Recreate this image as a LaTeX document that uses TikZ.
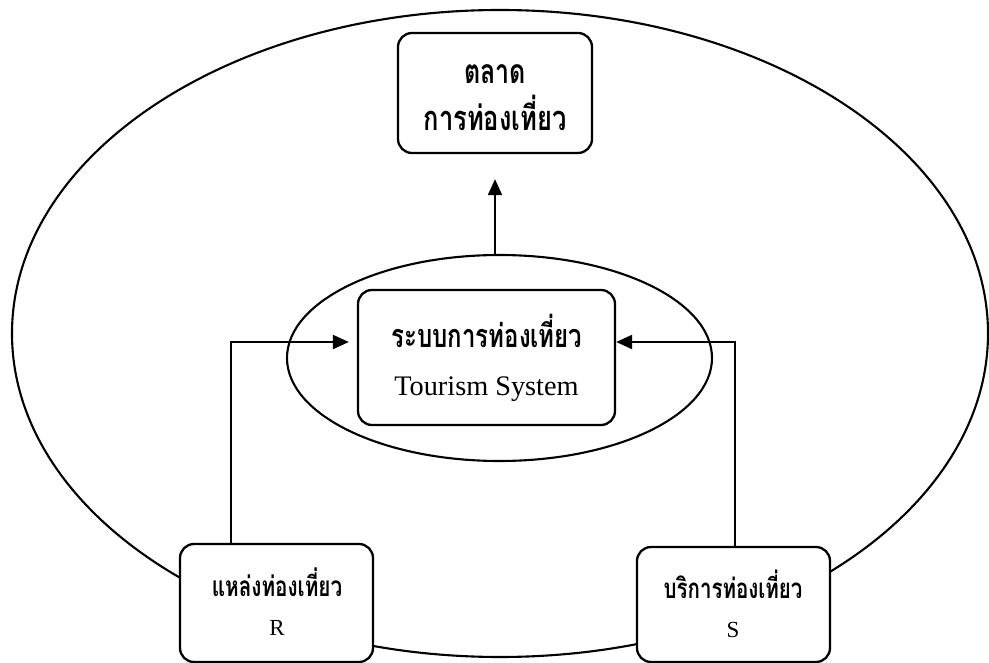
\documentclass[tikz,border=0pt]{standalone}
\usepackage{fontspec}
\usepackage{graphicx}
\setmainfont{Liberation Serif}
\newfontfamily\thai[Script=Thai]{Loma}
\newcommand\thtxt[2]{{\thai\bfseries\fontsize{#1}{#1}\selectfont\scalebox{1}[1.35]{#2}}}
\usetikzlibrary{shapes.geometric,arrows.meta}
\begin{document}
\begin{tikzpicture}[x=1pt,y=-1pt,
  box/.style={draw,line width=2.3pt,rounded corners=14pt,fill=white,inner sep=0pt},
  oval/.style={draw,ellipse,line width=2.1pt,inner sep=0pt},
  conn/.style={line width=2.1pt,-{Triangle[length=16pt,width=14pt]}},
  lbl/.style={inner sep=0pt,anchor=center},
]
\useasboundingbox (0,0) rectangle (989,663);
\node[oval,minimum width=976pt,minimum height=647pt] (outer) at (500,333.5) {};
\node[oval,minimum width=425pt,minimum height=206pt] (inner) at (499.5,358) {};
\node[box,minimum width=194pt,minimum height=120pt] (market) at (495,93) {};
\node[box,minimum width=257pt,minimum height=135pt] (system) at (486.5,357.5) {};
\node[box,minimum width=193pt,minimum height=118pt] (attr) at (276.5,603) {};
\node[box,minimum width=193pt,minimum height=115pt] (serv) at (733.5,604.5) {};
\node[lbl] (marketA) at (495,74) {\thtxt{25}{ตลาด}};
\node[lbl] (marketB) at (495,113) {\thtxt{25.5}{การท่องเที่ยว}};
\node[lbl] (systemA) at (487,331) {\thtxt{24}{ระบบการท่องเที่ยว}};
\node[lbl] (systemB) at (486.5,389) {\fontsize{28.3}{30}\selectfont Tourism System};
\node[lbl] (attrA) at (277,582) {\thtxt{20.7}{แหล่งท่องเที่ยว}};
\node[lbl] (attrB) at (277,628) {\fontsize{23}{25}\selectfont R};
\node[lbl] (servA) at (733,584) {\thtxt{20.5}{บริการท่องเที่ยว}};
\node[lbl] (servB) at (733,630) {\fontsize{23}{25}\selectfont S};
\draw[conn,shorten >=25pt] (market.south |- inner.north) -- (market.south);
\draw[conn,shorten >=8pt] (attr.north -| 231,0) |- (system.west |- 0,342);
\draw[conn] (serv.north -| 735,0) |- (system.east |- 0,342);
\end{tikzpicture}
\end{document}
